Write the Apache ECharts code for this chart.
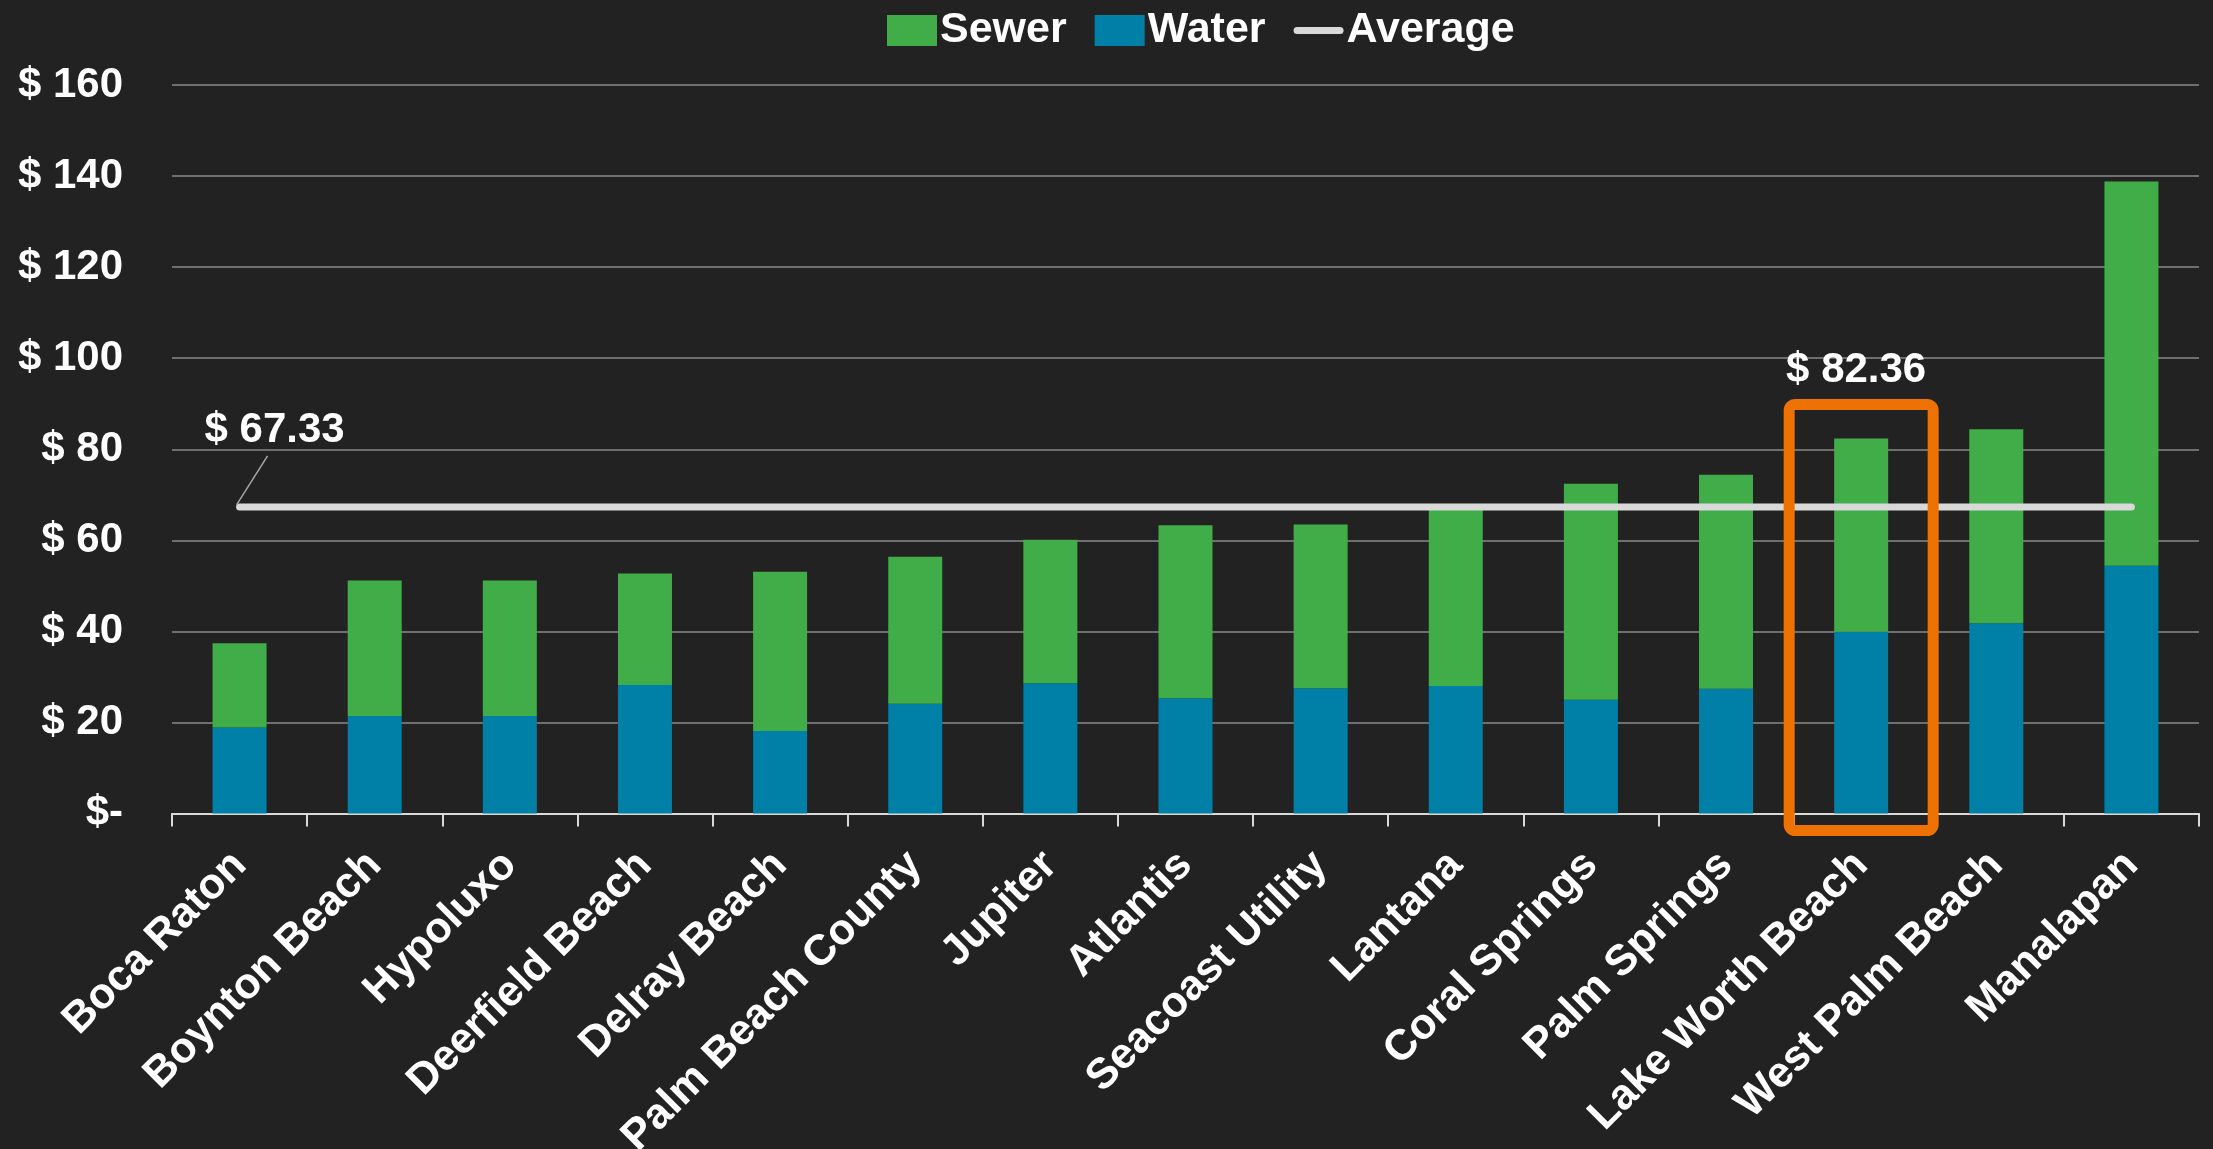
<!DOCTYPE html>
<html>
<head>
<meta charset="utf-8">
<script src="https://cdn.jsdelivr.net/npm/echarts@6/dist/echarts.min.js"></script>
<style>
html, body { margin: 0; padding: 0; background: #222222; }
#chart { width: 2213px; height: 1149px; }
</style>
</head>
<body>
<div id="chart"></div>
<script>
// data
var categories = ['Boca Raton', 'Boynton Beach', 'Hypoluxo', 'Deerfield Beach', 'Delray Beach',
  'Palm Beach County', 'Jupiter', 'Atlantis', 'Seacoast Utility', 'Lantana',
  'Coral Springs', 'Palm Springs', 'Lake Worth Beach', 'West Palm Beach', 'Manalapan']
var water = [18.9, 21.4, 21.4, 28.2, 18.1, 24.1, 28.6, 25.3, 27.5, 28.0, 25.0, 27.4, 39.9, 41.8, 54.4]
var sewer = [18.5, 29.8, 29.8, 24.5, 35.0, 32.3, 31.5, 38.0, 36.0, 39.0, 47.4, 47.0, 42.46, 42.6, 84.4]
var average = [67.33, 67.33, 67.33, 67.33, 67.33, 67.33, 67.33, 67.33, 67.33, 67.33, 67.33, 67.33, 67.33, 67.33, 67.33]
var yTickLabels = ['$-', '$ 20', '$ 40', '$ 60', '$ 80', '$ 100', '$ 120', '$ 140', '$ 160']
var avgLabel = '$ 67.33'
var highlightCity = 'Lake Worth Beach'
var highlightLabel = '$ 82.36'

var GREEN = '#41ad49'
var BLUE = '#007fa7'
var GREY = '#d9d9d9'
var ORANGE = '#ee7203'
var FONT = "'Liberation Sans', Arial, sans-serif"

var chart = echarts.init(document.getElementById('chart'))

var hiIndex = categories.indexOf(highlightCity)
var sewerData = sewer.map(function (v, i) {
  if (i !== hiIndex) return v
  return {
    value: v,
    label: {
      show: true, position: 'top', distance: 47, offset: [-5, 0],
      formatter: highlightLabel,
      color: '#ffffff', fontFamily: FONT, fontWeight: 'bold', fontSize: 42
    }
  }
})

chart.setOption({
  animation: false,
  backgroundColor: '#222222',
  legend: {
    left: 882,
    top: 4,
    itemWidth: 50,
    itemHeight: 31,
    itemGap: 28,
    textStyle: { color: '#ffffff', fontFamily: FONT, fontWeight: 'bold', fontSize: 43, padding: [0, 0, 0, -2] },
    data: [
      { name: 'Sewer', icon: 'rect' },
      { name: 'Water', icon: 'rect' },
      { name: 'Average', icon: 'path://M4,0 L52,0 A4,4 0 0 1 52,8 L4,8 A4,4 0 0 1 4,0 Z' }
    ]
  },
  grid: { left: 172, right: 14, top: 85, bottom: 335.5, containLabel: false, outerBoundsMode: 'none' },
  xAxis: {
    type: 'category',
    data: categories,
    axisLine: { lineStyle: { color: GREY, width: 2 } },
    axisTick: { show: true, interval: 0, length: 13, lineStyle: { color: GREY, width: 2 } },
    axisLabel: {
      interval: 0, rotate: 45, margin: 45,
      color: '#ffffff', fontFamily: FONT, fontWeight: 'bold', fontSize: 43
    }
  },
  yAxis: {
    type: 'value',
    min: 0, max: 160, interval: 20,
    axisLine: { show: false },
    axisTick: { show: false },
    splitLine: { lineStyle: { color: '#8a8a8a', width: 1.5 } },
    axisLabel: {
      margin: 49,
      color: '#ffffff', fontFamily: FONT, fontWeight: 'bold', fontSize: 42,
      formatter: function (v) { return yTickLabels[v / 20] }
    }
  },
  series: [
    {
      name: 'Water', type: 'bar', stack: 'total', barWidth: 54,
      itemStyle: { color: BLUE },
      data: water
    },
    {
      name: 'Sewer', type: 'bar', stack: 'total', barWidth: 54,
      itemStyle: { color: GREEN },
      data: sewerData
    },
    {
      name: 'Average', type: 'line', symbol: 'none', z: 5,
      lineStyle: { color: GREY, width: 7, cap: 'round' },
      itemStyle: { color: GREY },
      data: average
    }
  ]
})

// call-outs placed through the chart's own scales
var p0 = chart.convertToPixel({ seriesIndex: 2 }, [0, average[0]])
var hiBase = chart.convertToPixel({ seriesIndex: 0 }, [hiIndex, 0])
var hiTop = chart.convertToPixel({ seriesIndex: 0 }, [hiIndex, water[hiIndex] + sewer[hiIndex]])

chart.setOption({
  graphic: [
    {
      type: 'line', z: 10,
      shape: { x1: p0[0] - 3, y1: p0[1] - 2, x2: p0[0] + 28, y2: p0[1] - 51 },
      style: { stroke: '#a6a6a6', lineWidth: 1.5 }
    },
    {
      type: 'text', z: 10,
      x: p0[0] - 35, y: p0[1] - 56,
      style: {
        text: avgLabel, fill: '#ffffff', fontFamily: FONT, fontWeight: 'bold', fontSize: 42,
        textVerticalAlign: 'bottom'
      }
    },
    {
      type: 'rect', z: 10,
      shape: { x: hiBase[0] - 72, y: hiTop[1] - 34, width: 144, height: hiBase[1] - hiTop[1] + 51, r: 6 },
      style: { fill: 'none', stroke: ORANGE, lineWidth: 11 }
    }
  ]
})
</script>
</body>
</html>
